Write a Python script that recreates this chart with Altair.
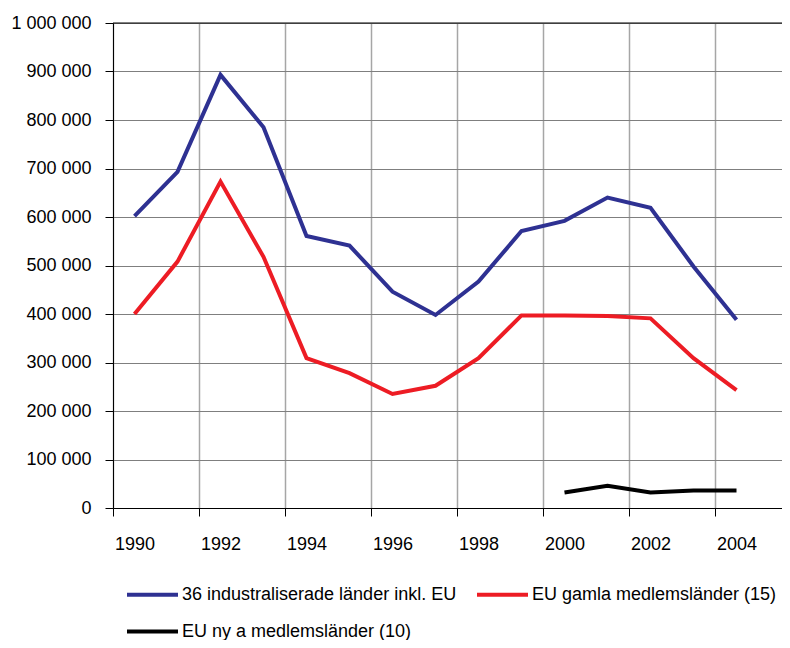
import altair as alt
import pandas as pd

years = list(range(1990, 2005))
blue_name = "36 industraliserade länder inkl. EU"
red_name = "EU gamla medlemsländer (15)"
black_name = "EU ny a medlemsländer (10)"

blue_vals = [602000, 693000, 893000, 785000, 561000, 541000, 446000, 398000,
             467000, 571000, 592000, 640000, 619000, 498000, 388000]
red_vals = [400000, 508000, 673000, 518000, 309000, 278000, 235000, 252000,
            309000, 397000, 397000, 396000, 391000, 309000, 243000]
black_years = [2000, 2001, 2002, 2003, 2004]
black_vals = [32000, 46000, 32000, 36000, 36000]

series_names = [blue_name, red_name, black_name]
series_colors = ["#2E3192", "#ED1C24", "#000000"]

rows = []
for y, v in zip(years, blue_vals):
    rows.append({"year": y, "value": v, "series": blue_name})
for y, v in zip(years, red_vals):
    rows.append({"year": y, "value": v, "series": red_name})
for y, v in zip(black_years, black_vals):
    rows.append({"year": y, "value": v, "series": black_name})
df = pd.DataFrame(rows)

FONT = "Liberation Sans, Arial, sans-serif"
W, H = 669, 485
x_domain = [1989.5, 1989.5 + W / 43.0]
boundaries = [1989.5 + 2 * i for i in range(8)]
y_ticks = [i * 100000 for i in range(11)]

x = alt.X(
    "year:Q",
    scale=alt.Scale(domain=x_domain, nice=False, zero=False),
    axis=alt.Axis(
        values=boundaries,
        labelExpr="format(datum.value + 0.5, 'd')",
        labelOffset=21.5,
        labelFlush=False,
        labelOverlap=False,
        labelPadding=19,
        labelFontSize=18,
        labelFont=FONT,
        labelColor="#000000",
        tickSize=8,
        tickColor="#000000",
        domainColor="#000000",
        grid=True,
        gridColor="#A6A6A6",
        gridWidth=1.5,
        title=None,
    ),
)
y = alt.Y(
    "value:Q",
    scale=alt.Scale(domain=[0, 1000000], nice=False),
    axis=alt.Axis(
        values=y_ticks,
        labelExpr="datum.value == 0 ? '0' : (datum.value >= 1000000 ? '1 000 000' : format(datum.value / 1000, 'd') + ' 000')",
        labelPadding=14,
        labelFontSize=18,
        labelFont=FONT,
        labelColor="#000000",
        tickSize=8,
        tickColor="#000000",
        domainColor="#000000",
        grid=True,
        gridColor="#7F7F7F",
        title=None,
    ),
)

lines = alt.Chart(df).mark_line(strokeWidth=4).encode(
    x=x,
    y=y,
    color=alt.Color(
        "series:N",
        scale=alt.Scale(domain=series_names, range=series_colors),
        sort=series_names,
        legend=alt.Legend(
            title=None,
            orient="none",
            legendX=12,
            legendY=544,
            columns=2,
            direction="horizontal",
            symbolType="stroke",
            symbolSize=2601,
            symbolStrokeWidth=4,
            labelFontSize=18,
            labelFont=FONT,
            labelColor="#000000",
            labelOffset=2,
            columnPadding=12,
            rowPadding=-17,
            labelLimit=400,
            padding=0,
        ),
    ),
    detail="series:N",
    order="year:Q",
)

top_rule = alt.Chart(pd.DataFrame({"v": [1000000]})).mark_rule(
    color="#000000", strokeWidth=1
).encode(y=alt.Y("v:Q", scale=alt.Scale(domain=[0, 1000000], nice=False)))

chart = alt.layer(lines, top_rule).properties(
    width=W,
    height=H,
    autosize=alt.AutoSizeParams(type="none"),
    padding={"left": 105, "top": 15, "right": 0, "bottom": 132},
).configure_view(stroke=None).configure(background="#ffffff")

chart.save("out.html", embed_options={"renderer": "svg", "actions": False})
